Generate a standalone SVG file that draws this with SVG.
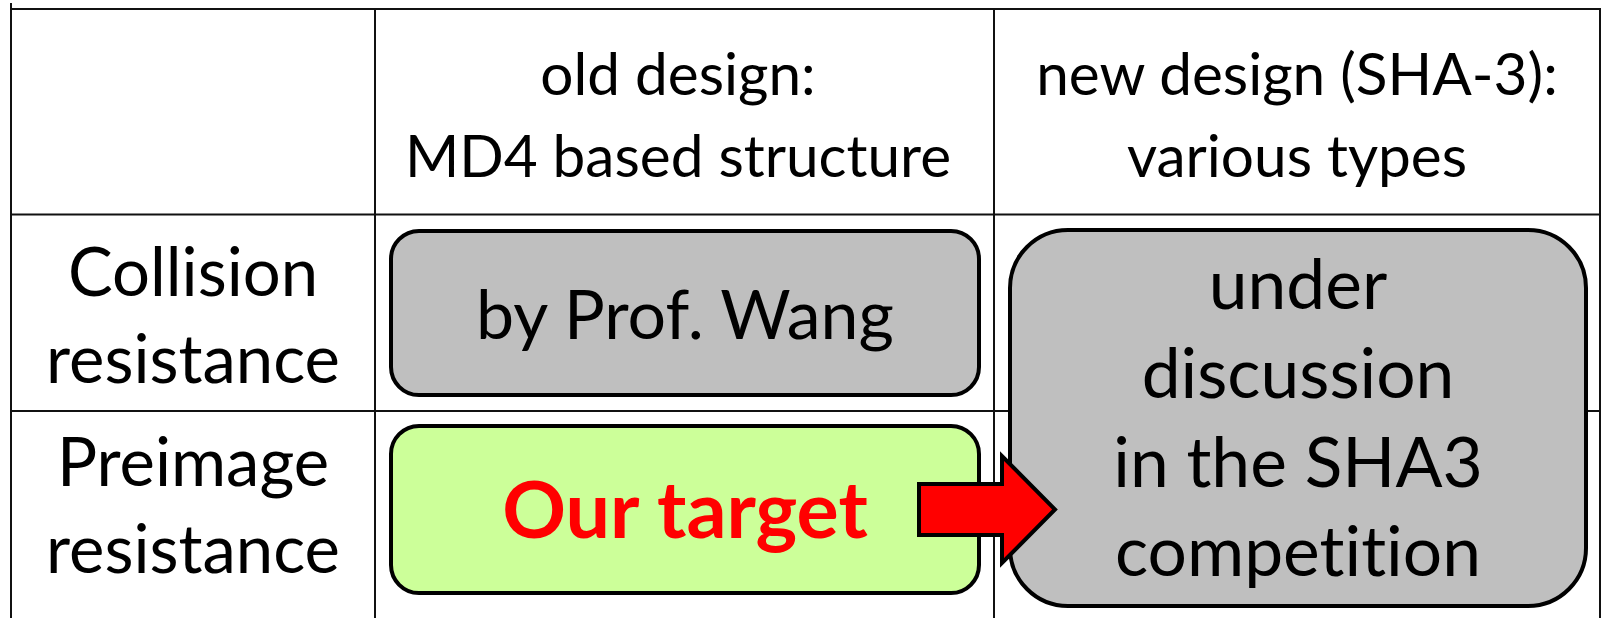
<svg xmlns="http://www.w3.org/2000/svg" width="1604" height="618" viewBox="0 0 1604 618">
  <style>
    .grid line { stroke: #111; stroke-width: 2; }
    .box { stroke: #000; stroke-width: 4; }
    .gray { fill: #bfbfbf; }
    .green { fill: #ccff99; }
    text { font-family: Lato, "Open Sans", "Liberation Sans", sans-serif; fill: #000; text-anchor: middle; font-variant-ligatures: none; }
    .hdr { font-size: 58.5px; }
    .row { font-size: 67px; }
    .lbl { font-size: 68px; }
    .big { font-size: 69.5px; }
    .hot { font-size: 79px; font-weight: bold; fill: #ff0000; }
    .arrow { fill: #ff0000; stroke: #000; stroke-width: 4; stroke-linejoin: miter; }
  </style>
  <rect width="1604" height="618" fill="#ffffff"/>

  <!-- table grid -->
  <g id="grid" class="grid">
    <line x1="11" y1="3" x2="11" y2="618"/>
    <line x1="375" y1="9" x2="375" y2="618"/>
    <line x1="994" y1="9" x2="994" y2="618"/>
    <line x1="1600" y1="9" x2="1600" y2="618"/>
    <line x1="11" y1="9" x2="1601" y2="9"/>
    <line x1="11" y1="214.5" x2="1601" y2="214.5"/>
    <line x1="11" y1="411" x2="1601" y2="411"/>
  </g>

  <!-- column headers -->
  <g id="header-old">
    <text class="hdr" x="678" y="95">old design:</text>
    <text class="hdr" x="678" y="177">MD4 based structure</text>
  </g>
  <g id="header-new">
    <text class="hdr" x="1297" y="95">new design (SHA-3):</text>
    <text class="hdr" x="1297" y="177">various types</text>
  </g>

  <!-- row headers -->
  <g id="row-collision">
    <text class="row" x="193" y="296">Collision</text>
    <text class="row" x="193" y="383">resistance</text>
  </g>
  <g id="row-preimage">
    <text class="row" x="193" y="486">Preimage</text>
    <text class="row" x="193" y="573">resistance</text>
  </g>

  <!-- cells -->
  <g id="wang">
    <rect class="box gray" x="391" y="231" width="588" height="164" rx="28" ry="28"/>
    <text class="lbl" x="685" y="339">by Prof. Wang</text>
  </g>
  <g id="target">
    <rect class="box green" x="391" y="426" width="588" height="167" rx="28" ry="28"/>
    <text class="hot" x="685" y="538">Our target</text>
  </g>
  <g id="sha3">
    <rect class="box gray" x="1010" y="230" width="576" height="376" rx="58" ry="58"/>
    <text class="big" x="1298" y="309">under</text>
    <text class="big" x="1298" y="398">discussion</text>
    <text class="big" x="1298" y="487">in the SHA3</text>
    <text class="big" x="1298" y="576">competition</text>
  </g>

  <!-- connectors -->
  <g id="connectors">
    <path class="arrow" d="M919,484 L1002,484 L1002,456 L1055,509.5 L1002,563 L1002,535 L919,535 Z"/>
  </g>
</svg>
